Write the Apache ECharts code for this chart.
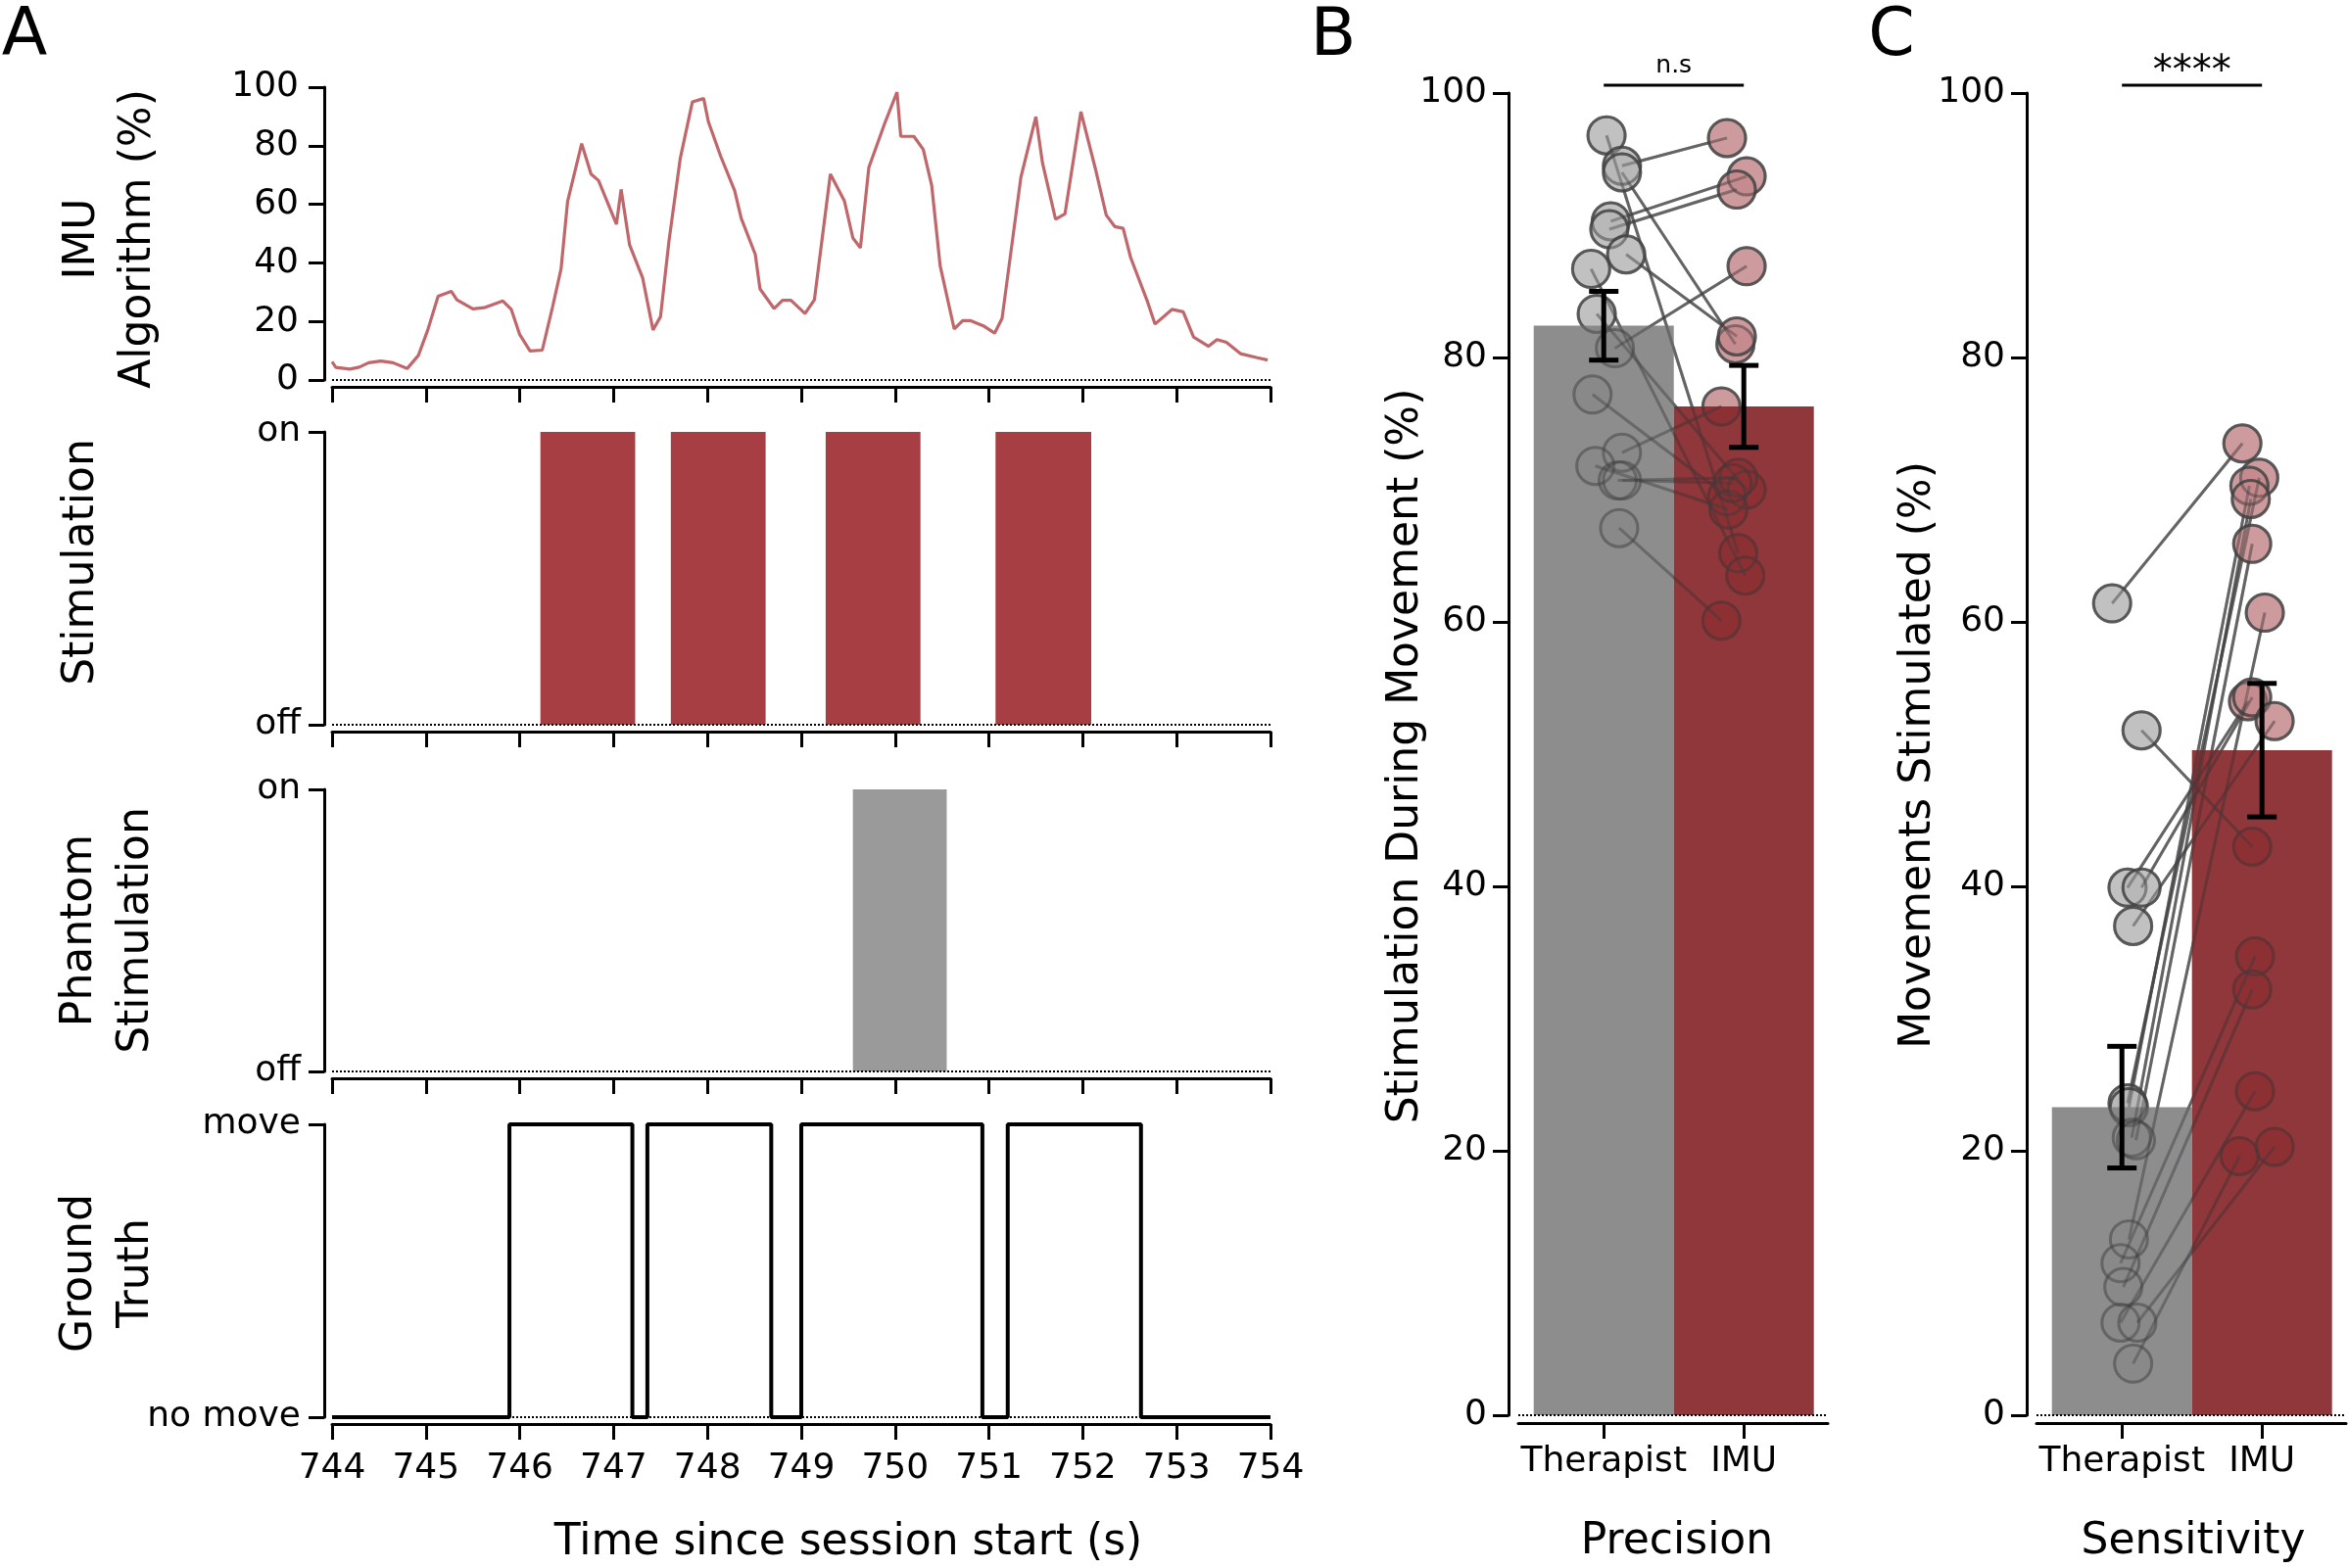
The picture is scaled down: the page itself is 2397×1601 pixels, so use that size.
<!DOCTYPE html>
<html>
<head>
<meta charset="utf-8">
<script src="https://cdn.jsdelivr.net/npm/echarts@6/dist/echarts.min.js"></script>
<style>
html,body{margin:0;padding:0;background:#fff;}
#main{width:2397px;height:1601px;}
</style>
</head>
<body>
<div id="main"></div>
<script>
// ---------------- DATA ----------------
const timeTicks = [744, 754];
const imuTime = [744.00,744.04,744.19,744.29,744.39,744.52,744.65,744.80,744.92,745.02,745.13,745.27,745.33,745.50,745.62,745.82,745.91,746.00,746.11,746.24,746.35,746.44,746.51,746.66,746.76,746.84,747.03,747.08,747.17,747.31,747.42,747.50,747.59,747.71,747.84,747.96,748.01,748.14,748.29,748.36,748.51,748.56,748.71,748.80,748.89,749.04,749.14,749.31,749.46,749.55,749.63,749.72,749.89,750.02,750.06,750.20,750.30,750.39,750.48,750.63,750.72,750.80,750.94,751.06,751.14,751.34,751.50,751.57,751.71,751.81,751.98,752.14,752.25,752.34,752.43,752.51,752.69,752.77,752.95,753.07,753.18,753.34,753.43,753.53,753.68,753.86,753.97];
const imuValue = [6.2,4.3,3.7,4.4,5.9,6.5,5.9,3.9,8.4,17.1,28.6,30.3,27.4,24.3,24.7,27.0,24.1,15.5,9.9,10.2,25.0,37.9,61.0,80.7,70.3,68.1,53.2,65.1,46.2,34.8,17.1,21.6,47.4,75.6,95.0,96.1,88.2,76.5,64.7,55.2,42.9,31.1,24.4,27.2,27.2,22.7,27.4,70.3,61.1,48.5,45.1,72.6,87.7,98.3,83.2,83.2,78.7,66.4,39.0,17.4,20.3,20.3,18.5,16.0,21.1,69.2,89.9,74.2,54.9,56.7,91.6,71.4,56.3,52.4,51.8,41.8,26.7,19.1,24.1,23.3,14.7,11.5,13.8,12.9,9.0,7.6,6.8];

const stimStart = [746.22, 747.61, 749.26, 751.07];
const stimEnd   = [747.23, 748.62, 750.27, 752.09];
const phantomStart = [749.55];
const phantomEnd   = [750.55];
const stimLabels = ['off', 'on'];

const gtTime  = [744, 745.89, 747.20, 747.36, 748.68, 749.00, 750.93, 751.20, 752.62, 754];
const gtState = [0, 1, 0, 1, 0, 1, 0, 1, 0, 0];
const gtLabels = ['no move', 'move'];

const groups = ['Therapist', 'IMU'];

// Panel B: Precision (stimulation during movement %)
const precTherapist  = [96.8, 94.5, 94.0, 90.3, 89.7, 87.8, 86.7, 83.3, 80.7, 77.2, 72.8, 71.8, 70.7, 70.7, 67.1];
const precTherapistX = [0.02, 0.13, 0.13, 0.05, 0.04, 0.16, -0.09, -0.05, 0.08, -0.08, 0.13, -0.06, 0.10, 0.13, 0.11];
const precIMU        = [65.2, 96.6, 81.0, 93.7, 92.7, 81.6, 63.5, 70.0, 86.9, 69.5, 76.3, 68.5, 70.9, 70.5, 60.1];
const precIMUX       = [0.96, 0.88, 0.94, 1.02, 0.95, 0.95, 1.01, 1.02, 1.02, 0.88, 0.84, 0.89, 0.96, 0.92, 0.84];
const precMean = [82.4, 76.3];
const precErr  = [2.6, 3.1];
const precSig = 'n.s';

// Panel C: Sensitivity (movements stimulated %)
const sensTherapist  = [61.4, 51.8, 39.9, 39.9, 37.0, 23.6, 23.3, 21.0, 20.8, 13.3, 11.5, 9.7, 7.0, 7.0, 3.9];
const sensTherapistX = [-0.07, 0.14, 0.04, 0.14, 0.08, 0.04, 0.05, 0.07, 0.10, 0.05, -0.01, 0.01, -0.01, 0.11, 0.08];
const sensIMU        = [73.5, 43.0, 54.0, 54.3, 52.5, 70.9, 70.3, 69.3, 65.9, 60.7, 34.7, 32.2, 24.5, 20.3, 19.6];
const sensIMUX       = [0.86, 0.93, 0.90, 0.93, 1.09, 0.98, 0.91, 0.92, 0.93, 1.02, 0.95, 0.93, 0.95, 1.09, 0.84];
const sensMean = [23.3, 50.3];
const sensErr  = [4.6, 5.05];
const sensSig = '****';

// ---------------- STYLE ----------------
const FONT = 'DejaVu Sans';
const BLACK = '#000';
const LINE_RED = '#c0676b';
const STIM_RED = '#a63e43';
const PHANTOM_GRAY = '#9a9a9a';
const BAR_COLORS = ['rgb(132,132,132)', 'rgb(134,40,44)'];
const PT_FILL = ['rgba(182,182,182,0.85)', 'rgba(196,136,140,0.85)'];
const PT_EDGE = 'rgba(80,80,80,0.8)';

const dottedZero = {
  silent: true, symbol: ['none', 'none'], label: {show: false},
  lineStyle: {type: 'dotted', color: BLACK, width: 2},
  data: [{yAxis: 0}]
};

function axisLineStyle() { return {show: true, onZero: false, lineStyle: {color: BLACK, width: 3}}; }
function axisTickStyle(len) { return {show: true, length: len, lineStyle: {color: BLACK, width: 3}}; }

// ---------------- GRIDS ----------------
const grids = [
  {left: 339, top: 89,   width: 958, height: 299},
  {left: 339, top: 441,  width: 958, height: 299},
  {left: 339, top: 806,  width: 958, height: 288},
  {left: 339, top: 1148, width: 958, height: 299},
  {left: 1550, top: 95, width: 316, height: 1350},
  {left: 2079, top: 95, width: 316, height: 1350}
].map(g => Object.assign({containLabel: false, outerBoundsMode: 'none'}, g));

const xAxes = [];
const yAxes = [];
for (let i = 0; i < 4; i++) {
  xAxes.push({
    type: 'value', gridIndex: i, min: timeTicks[0], max: timeTicks[1], interval: 1,
    offset: 7, axisLine: axisLineStyle(), axisTick: axisTickStyle(16),
    axisLabel: {show: i === 3, fontSize: 36, color: BLACK, fontFamily: FONT, margin: 28},
    splitLine: {show: false}
  });
}
yAxes.push({
  type: 'value', gridIndex: 0, min: 0, max: 100, interval: 20, offset: 8,
  axisLine: axisLineStyle(), axisTick: axisTickStyle(16),
  axisLabel: {fontSize: 36, color: BLACK, fontFamily: FONT, margin: 26},
  splitLine: {show: false}
});
const binLabels = [stimLabels, stimLabels, gtLabels];
for (let i = 1; i < 4; i++) {
  const labs = binLabels[i - 1];
  yAxes.push({
    type: 'value', gridIndex: i, min: 0, max: 1, interval: 1, offset: 8,
    axisLine: axisLineStyle(), axisTick: axisTickStyle(16),
    axisLabel: {fontSize: 36, color: BLACK, fontFamily: FONT, margin: 24, formatter: v => labs[v]},
    splitLine: {show: false}
  });
}
for (let i = 4; i < 6; i++) {
  xAxes.push({
    type: 'value', gridIndex: i, min: -0.61, max: 1.6, offset: 8,
    axisLine: axisLineStyle(),
    axisTick: Object.assign(axisTickStyle(16), {customValues: [0, 1]}),
    axisLabel: {customValues: [0, 1], fontSize: 36, color: BLACK, fontFamily: FONT, margin: 22,
      formatter: v => groups[Math.round(v)]},
    splitLine: {show: false}
  });
  yAxes.push({
    type: 'value', gridIndex: i, min: 0, max: 100, interval: 20, offset: 10,
    axisLine: axisLineStyle(), axisTick: axisTickStyle(16),
    axisLabel: {fontSize: 36, color: BLACK, fontFamily: FONT, margin: 22},
    splitLine: {show: false}
  });
}

// ---------------- SERIES ----------------
function rectSeries(idx, starts, ends, color) {
  return {
    type: 'custom', xAxisIndex: idx, yAxisIndex: idx, z: 2,
    data: starts.map((s, i) => [s, ends[i]]),
    encode: {x: [0, 1]},
    renderItem: (params, api) => {
      const a = api.coord([api.value(0), 1]);
      const b = api.coord([api.value(1), 0]);
      return {type: 'rect', shape: {x: a[0], y: a[1], width: b[0] - a[0], height: b[1] - a[1]}, style: {fill: color}};
    },
    markLine: dottedZero
  };
}

function pairLines(idx, tVals, tX, iVals, iX, stroke, z) {
  return {
    type: 'custom', xAxisIndex: idx, yAxisIndex: idx, z: z, silent: true,
    data: tVals.map((v, i) => [tX[i], v, iX[i], iVals[i]]),
    encode: {x: [0, 2], y: [1, 3]},
    renderItem: (params, api) => {
      const p0 = api.coord([api.value(0), api.value(1)]);
      const p1 = api.coord([api.value(2), api.value(3)]);
      return {type: 'line', shape: {x1: p0[0], y1: p0[1], x2: p1[0], y2: p1[1]},
        style: {stroke: stroke, lineWidth: 3}};
    }
  };
}

function panelSeries(idx, tVals, tX, iVals, iX, means, errs, sig, sigSize, sigOffset) {
  const out = [];
  out.push(pairLines(idx, tVals, tX, iVals, iX, 'rgba(80,80,80,0.75)', 1));
  const groupsPts = [[tVals, tX], [iVals, iX]];
  groupsPts.forEach((gp, g) => {
    out.push({
      type: 'scatter', xAxisIndex: idx, yAxisIndex: idx, z: 2, symbolSize: 38,
      data: gp[0].map((v, i) => [gp[1][i], v]),
      itemStyle: {color: PT_FILL[g], borderColor: PT_EDGE, borderWidth: 3, opacity: 1}
    });
  });
  out.push({
    type: 'bar', xAxisIndex: idx, yAxisIndex: idx, z: 3, barWidth: 143,
    data: means.map((m, i) => ({value: [i, m], itemStyle: {color: BAR_COLORS[i], opacity: 0.93}}))
  });
  // faint overlay so marks under the bars stay visible
  out.push(pairLines(idx, tVals, tX, iVals, iX, 'rgba(60,60,60,0.38)', 4));
  groupsPts.forEach((gp) => {
    out.push({
      type: 'scatter', xAxisIndex: idx, yAxisIndex: idx, z: 4, symbolSize: 38, silent: true,
      data: gp[0].map((v, i) => [gp[1][i], v]),
      itemStyle: {color: 'rgba(0,0,0,0)', borderColor: 'rgba(60,60,60,0.42)', borderWidth: 3, opacity: 1}
    });
  });
  out.push({
    type: 'custom', xAxisIndex: idx, yAxisIndex: idx, z: 6,
    data: means.map((m, i) => [i, m, errs[i]]),
    encode: {x: 0, y: 1},
    renderItem: (params, api) => {
      const x = api.value(0), m = api.value(1), e = api.value(2);
      const top = api.coord([x, m + e]);
      const bot = api.coord([x, m - e]);
      const st = {stroke: BLACK, lineWidth: 5};
      return {type: 'group', children: [
        {type: 'line', shape: {x1: top[0], y1: top[1], x2: bot[0], y2: bot[1]}, style: st},
        {type: 'line', shape: {x1: top[0] - 15, y1: top[1], x2: top[0] + 15, y2: top[1]}, style: st},
        {type: 'line', shape: {x1: bot[0] - 15, y1: bot[1], x2: bot[0] + 15, y2: bot[1]}, style: st}
      ]};
    },
    markLine: dottedZero
  });
  out.push({
    type: 'custom', xAxisIndex: idx, yAxisIndex: idx, z: 6, clip: false,
    data: [[0, 1, 100.6]],
    encode: {x: [0, 1], y: 2},
    renderItem: (params, api) => {
      const p0 = api.coord([api.value(0), api.value(2)]);
      const p1 = api.coord([api.value(1), api.value(2)]);
      return {type: 'group', children: [
        {type: 'line', shape: {x1: p0[0], y1: p0[1], x2: p1[0], y2: p1[1]}, style: {stroke: BLACK, lineWidth: 3}},
        {type: 'text', x: (p0[0] + p1[0]) / 2, y: p0[1] - sigOffset,
          style: {text: sig, fontSize: sigSize, fontFamily: FONT, fill: BLACK, align: 'center', verticalAlign: 'middle'}}
      ]};
    }
  });
  return out;
}

const series = [
  {
    type: 'line', xAxisIndex: 0, yAxisIndex: 0, z: 3, showSymbol: false, symbol: 'none',
    data: imuTime.map((t, i) => [t, imuValue[i]]),
    lineStyle: {color: LINE_RED, width: 3.2}, itemStyle: {color: LINE_RED},
    markLine: dottedZero
  },
  rectSeries(1, stimStart, stimEnd, STIM_RED),
  rectSeries(2, phantomStart, phantomEnd, PHANTOM_GRAY),
  {
    type: 'line', xAxisIndex: 3, yAxisIndex: 3, z: 3, step: 'end', showSymbol: false, symbol: 'none',
    data: gtTime.map((t, i) => [t, gtState[i]]),
    lineStyle: {color: BLACK, width: 4}, itemStyle: {color: BLACK},
    markLine: dottedZero
  }
].concat(
  panelSeries(4, precTherapist, precTherapistX, precIMU, precIMUX, precMean, precErr, precSig, 25, 19),
  panelSeries(5, sensTherapist, sensTherapistX, sensIMU, sensIMUX, sensMean, sensErr, sensSig, 40, 12)
);

// ---------------- TEXT ----------------
function txt(x, y, text, size, rot, lh) {
  return {type: 'text', x: x, y: y, rotation: rot || 0, silent: true,
    style: {text: text, fontSize: size, fontFamily: FONT, fill: BLACK, align: 'center', verticalAlign: 'middle', lineHeight: lh || size * 1.2}};
}
const R = Math.PI / 2;
const graphic = [
  txt(25, 38, 'A', 68),
  txt(1361, 38, 'B', 68),
  txt(1931, 38, 'C', 68),
  txt(113, 244, 'IMU\nAlgorithm (%)', 44, R, 57),
  txt(84, 574, 'Stimulation', 44, R),
  txt(111, 950, 'Phantom\nStimulation', 44, R, 58),
  txt(111, 1300, 'Ground\nTruth', 44, R, 58),
  txt(1436, 772, 'Stimulation During Movement (%)', 44, R),
  txt(1959, 771, 'Movements Stimulated (%)', 44, R),
  txt(866, 1576, 'Time since session start (s)', 44),
  txt(1712, 1575, 'Precision', 44),
  txt(2239, 1575, 'Sensitivity', 44)
];

const chart = echarts.init(document.getElementById('main'), null, {renderer: 'canvas'});
chart.setOption({
  animation: false,
  backgroundColor: '#fff',
  textStyle: {fontFamily: FONT},
  grid: grids,
  xAxis: xAxes,
  yAxis: yAxes,
  series: series,
  graphic: graphic
});
</script>
</body>
</html>
